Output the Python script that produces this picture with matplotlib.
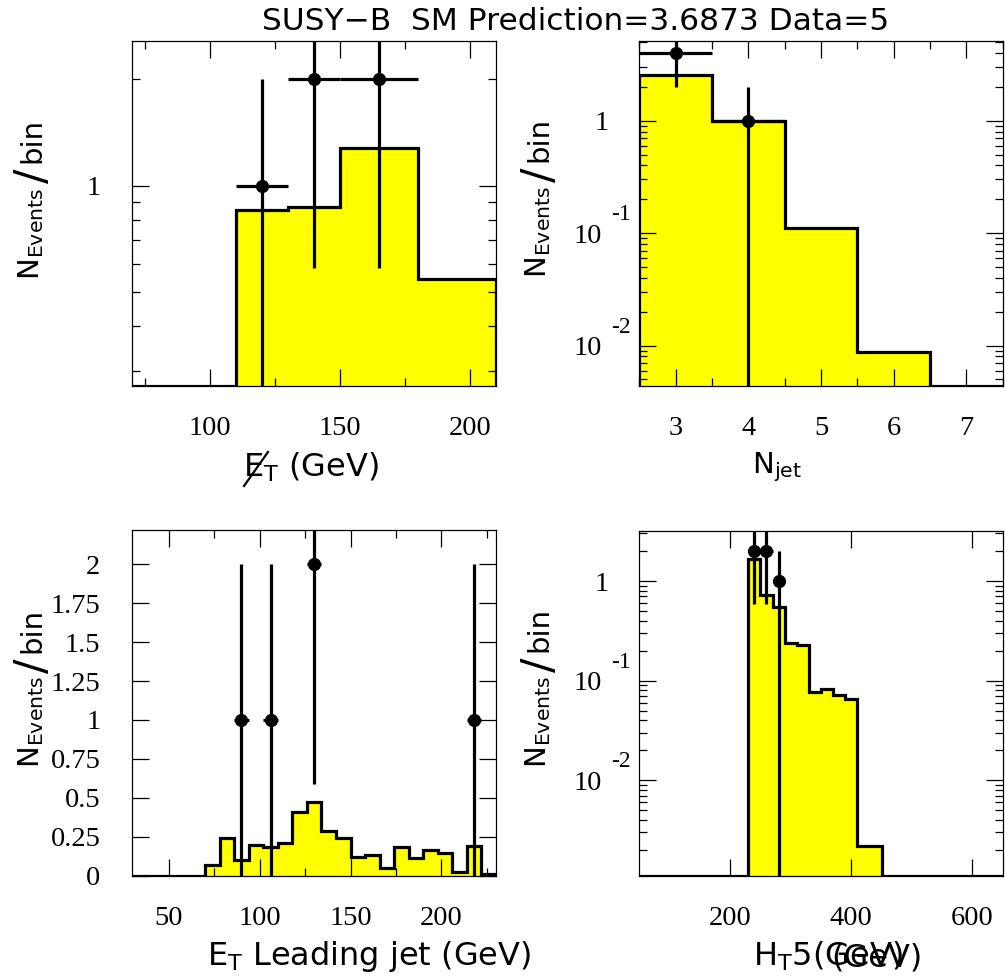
import numpy as np
import matplotlib
matplotlib.use('Agg')
from matplotlib import pyplot as plt
from matplotlib.lines import Line2D
from matplotlib.ticker import FixedLocator, MultipleLocator, NullFormatter, FuncFormatter, LogLocator

plt.rcParams['font.family'] = ['DejaVu Sans']
plt.rcParams['mathtext.fontset'] = 'custom'
plt.rcParams['mathtext.rm'] = 'Liberation Serif'
plt.rcParams['mathtext.sf'] = 'DejaVu Sans'

YELLOW = '#ffff00'
W, H = 1005, 980

# ---- data ----
title = 'SUSY\u2212B  SM Prediction=3.6873 Data=5'

# MET
met_edges = [70, 110, 130, 150, 180, 210]
met_pred = [0.0, 0.854, 0.873, 1.28, 0.546]
met_x = [120, 140, 165]
met_xerr = [10, 10, 15]
met_data = [1, 2, 2]

# Njet
nj_edges = [2.5, 3.5, 4.5, 5.5, 6.5, 7.5]
nj_pred = [2.57, 0.995, 0.112, 0.0087, 0.0]
nj_x = [3, 4]
nj_xerr = [0.5, 0.5]
nj_data = [4, 1]

# leading jet ET
et_edges = np.arange(30, 231, 8)
et_pred = [0, 0, 0, 0, 0,
           0.068, 0.244, 0.100, 0.197, 0.186, 0.208, 0.411, 0.475, 0.289, 0.244,
           0.122, 0.133, 0.047, 0.186, 0.111, 0.165, 0.143, 0.026, 0.193, 0.010]
et_x = [90, 106, 130, 218]
et_data = [1, 1, 2, 1]

# HT5
ht_edges = np.arange(50, 651, 20)
ht_pred = [0] * 9 + [1.66, 0.72, 0.552, 0.24, 0.227, 0.077, 0.083, 0.0715, 0.0647,
                     0.0022, 0.0022] + [0] * 10
ht_x = [240, 260, 280]
ht_data = [2, 2, 1]

log_decades = [0, -1, -2]


def px_axes(l, t, r, b):
    return [l / W, 1 - b / H, (r - l) / W, (b - t) / H]


def style(ax):
    ax.tick_params(which='both', direction='in', top=True, right=True, width=0.9,
                   labelsize=20.5, labelfontfamily='Liberation Serif')
    ax.tick_params(axis='y', pad=23)
    ax.tick_params(axis='x', pad=22)
    ax.tick_params(which='major', length=12.5)
    ax.tick_params(which='minor', length=6)
    for s in ax.spines.values():
        s.set_linewidth(0.9)


def log_yaxis(ax, decades):
    # ROOT style labels: "1", and "10" with the exponent set above-right
    ax.yaxis.set_major_locator(FixedLocator([10.0 ** d for d in decades]))
    ax.yaxis.set_major_formatter(NullFormatter())
    ax.yaxis.set_minor_locator(LogLocator(subs=np.arange(2, 10)))
    ax.yaxis.set_minor_formatter(NullFormatter())
    kw = dict(xycoords=('axes fraction', 'data'), textcoords='offset pixels',
              family='Liberation Serif', annotation_clip=False)
    for d in decades:
        if d == 0:
            ax.annotate('1', xy=(0, 1), xytext=(-31, 0), ha='right',
                        va='center_baseline', fontsize=20.5, **kw)
        else:
            ax.annotate('10', xy=(0, 10.0 ** d), xytext=(-37, 0), ha='right',
                        va='center_baseline', fontsize=20.5, **kw)
            ax.annotate('-%d' % -d, xy=(0, 10.0 ** d), xytext=(-18, 21), ha='center',
                        va='center_baseline', fontsize=17, **kw)


def draw_hist(ax, edges, vals, floor):
    v = np.where(np.array(vals) > 0, vals, floor)
    ax.stairs(v, edges, baseline=floor, fill=True, color=YELLOW, zorder=1)
    ax.stairs(v, edges, baseline=floor, color='black', lw=2.3, zorder=2)


def draw_data(ax, x, y, xerr):
    y = np.array(y, dtype=float)
    err = np.sqrt(y)
    ax.errorbar(x, y, yerr=err, xerr=xerr, fmt='o', color='black', ms=8.5,
                lw=2.3, capsize=0, zorder=3)


fig = plt.figure(figsize=(W / 100, H / 100), dpi=100)

# top-left: MET
ax1 = fig.add_axes(px_axes(132, 40.7, 496, 385.7))
ax1.set_yscale('log')
ax1.set_xlim(70, 210)
ax1.set_ylim(0.272, 2.57)
draw_hist(ax1, met_edges, met_pred, 0.272)
draw_data(ax1, met_x, met_data, met_xerr)
style(ax1)
ax1.xaxis.set_major_locator(MultipleLocator(50))
ax1.xaxis.set_minor_locator(MultipleLocator(25))
log_yaxis(ax1, [0])

# top-right: Njet
ax2 = fig.add_axes(px_axes(639.3, 40.7, 1002.7, 385.7))
ax2.set_yscale('log')
ax2.set_xlim(2.5, 7.5)
ax2.set_ylim(0.0044, 5.14)
draw_hist(ax2, nj_edges, nj_pred, 0.0044)
draw_data(ax2, nj_x, nj_data, nj_xerr)
style(ax2)
ax2.xaxis.set_major_locator(MultipleLocator(1))
ax2.xaxis.set_minor_locator(MultipleLocator(0.5))
log_yaxis(ax2, log_decades)

# bottom-left: leading jet ET
ax3 = fig.add_axes(px_axes(132.3, 530, 496, 875.7))
ax3.set_xlim(30, 230)
ax3.set_ylim(0, 2.22)
draw_hist(ax3, et_edges, et_pred, 0)
draw_data(ax3, et_x, et_data, 4)
style(ax3)
ax3.xaxis.set_major_locator(MultipleLocator(50))
ax3.xaxis.set_minor_locator(MultipleLocator(25))
ax3.yaxis.set_major_locator(MultipleLocator(0.25))
ax3.yaxis.set_major_formatter(FuncFormatter(lambda v, p: '%g' % v))

# bottom-right: HT5
ax4 = fig.add_axes(px_axes(639.3, 530.7, 1002.7, 875.7))
ax4.set_yscale('log')
ax4.set_xlim(50, 650)
ax4.set_ylim(0.0011, 3.2)
draw_hist(ax4, ht_edges, ht_pred, 0.0011)
draw_data(ax4, ht_x, ht_data, 10)
style(ax4)
ax4.xaxis.set_major_locator(MultipleLocator(200))
ax4.xaxis.set_minor_locator(FixedLocator([]))
log_yaxis(ax4, log_decades)

# texts
fs = 21
fxs = 23
fig.text(576 / W, 1 - 30 / H, title, ha='center', va='baseline', fontsize=22.5)

# y labels built from pieces so the slash can be bigger
for xc, ybot, ytop in [(31, 280, 118), (538, 278, 117), (31, 768, 608), (538, 768, 607)]:
    fig.text(xc / W, 1 - ybot / H, r'N$_{\mathsf{Events}}$', rotation=90,
             ha='center', va='bottom', fontsize=fs)
    fig.text((xc + 1) / W, 1 - ytop / H, 'bin', rotation=90,
             ha='center', va='top', fontsize=fs)
    fig.text((xc + 2) / W, 1 - (ytop + 58) / H, '/', rotation=90,
             ha='center', va='center', fontsize=31)

fig.text(243 / W, 1 - 477 / H, r'E$_{\mathsf{T}}$ (GeV)', ha='left', va='baseline', fontsize=fxs)
fig.add_artist(Line2D([244 / W, 268 / W], [1 - 486 / H, 1 - 452 / H], color='black', lw=1.6))
fig.text(752 / W, 1 - 473 / H, r'N$_{\mathsf{jet}}$', ha='left', va='baseline', fontsize=fs)
fig.text(207 / W, 1 - 965 / H, r'E$_{\mathsf{T}}$ Leading jet (GeV)', ha='left', va='baseline', fontsize=fxs)
fig.text(753 / W, 1 - 966 / H, r'H$_{\mathsf{T}}$5(GeV)', ha='left', va='baseline', fontsize=fxs)
fig.text(922 / W, 1 - 966 / H, '(GeV)', ha='right', va='baseline', fontsize=fxs)

fig.savefig('out.png', dpi=100)
